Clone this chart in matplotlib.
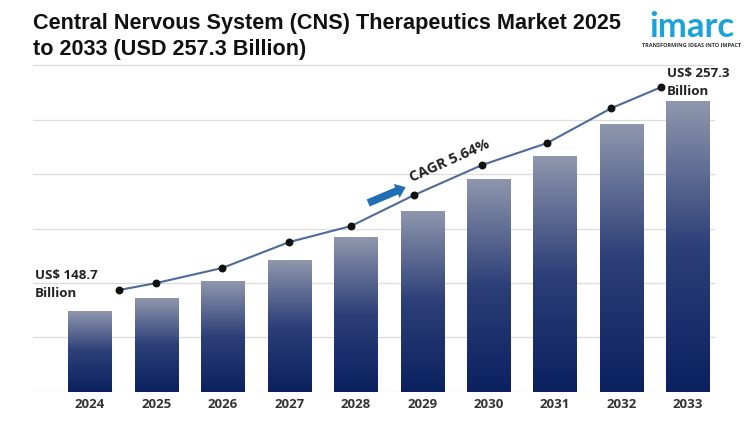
import numpy as np
import matplotlib
matplotlib.use("Agg")
import matplotlib.pyplot as plt
from matplotlib.colors import LinearSegmentedColormap

# data (arbitrary chart units)
years = ["2024", "2025", "2026", "2027", "2028", "2029", "2030", "2031", "2032", "2033"]
bar_values = [81, 94, 111, 132, 155, 181, 213, 236, 268, 291]
line_pos = [0.44, 1.0, 1.99, 3.0, 3.93, 4.88, 5.9, 6.88, 7.85, 8.6]
line_values = [102, 109, 124, 150, 166, 197, 227, 249, 284, 305]
grid_levels = [0, 54.5, 109, 163.5, 218, 272.5, 327]

title_font = ["Liberation Sans Narrow", "Liberation Sans", "DejaVu Sans"]
label_font = ["Open Sans", "DejaVu Sans"]

fig = plt.figure(figsize=(7.5, 4.21), dpi=100)
ax = fig.add_axes([0.044, 0.069, 0.909, 0.781])
ax.set_xlim(-0.858, 9.406)
ax.set_ylim(0, 329)

for g in grid_levels:
    ax.axhline(g, color="#dcdcdc", lw=0.9, zorder=0)

cmap = LinearSegmentedColormap.from_list("bar", ["#0b215f", "#2c3f78", "#8f97ad"])
grad = np.linspace(0, 1, 256).reshape(-1, 1)
bw = 0.65
bars = ax.bar(range(len(years)), bar_values, width=bw, color="none", zorder=2)
for b in bars:
    x0, w, h = b.get_x(), b.get_width(), b.get_height()
    im = ax.imshow(grad, cmap=cmap, aspect="auto", origin="lower",
                   extent=[x0, x0 + w, 0, h], zorder=2)
    im.set_clip_path(b)

ax.plot(line_pos, line_values, color="#4d6b98", lw=1.5, zorder=3)
ax.scatter(line_pos, line_values, s=22, color="#111111", zorder=4)

ax.set_xticks(range(len(years)))
ax.set_xticklabels(years, family=label_font, fontweight="bold", fontsize=9.5, color="#333333")
ax.tick_params(length=0, pad=4)
ax.set_yticks([])
for s in ax.spines.values():
    s.set_visible(False)

ax.text(-0.83, 108, "US$ 148.7\nBillion", family=label_font, fontweight="bold",
        fontsize=9.5, color="#222222", va="center", ha="left", linespacing=1.5)
ax.text(8.68, 310, "US$ 257.3\nBillion", family=label_font, fontweight="bold",
        fontsize=9.5, color="#222222", va="center", ha="left", linespacing=1.5)

ax.annotate("", xy=(4.79, 206), xytext=(4.15, 188),
            arrowprops=dict(arrowstyle="simple,head_width=1.1,head_length=0.7,tail_width=0.55",
                            color="#1f6db3", lw=0), zorder=4)
ax.text(5.42, 231, "CAGR 5.64%", family=label_font, fontweight="bold", fontsize=10.5,
        color="#222222", rotation=24, ha="center", va="center")

fig.text(0.044, 0.945, "Central Nervous System (CNS) Therapeutics Market 2025",
         family=title_font, fontweight="bold", fontsize=15.6, color="#111111", va="center")
fig.text(0.044, 0.883, "to 2033 (USD 257.3 Billion)",
         family=title_font, fontweight="bold", fontsize=15.6, color="#111111", va="center")

fig.text(0.922, 0.913, "imarc", family=["Lato", "DejaVu Sans"], fontsize=25,
         fontweight="bold", color="#1aa3d8", ha="center", va="baseline")
fig.text(0.922, 0.893, "TRANSFORMING IDEAS INTO IMPACT", family=label_font,
         fontweight="bold", fontsize=4.0, color="#333333", ha="center", va="center")

fig.savefig("out.png", dpi=100)
